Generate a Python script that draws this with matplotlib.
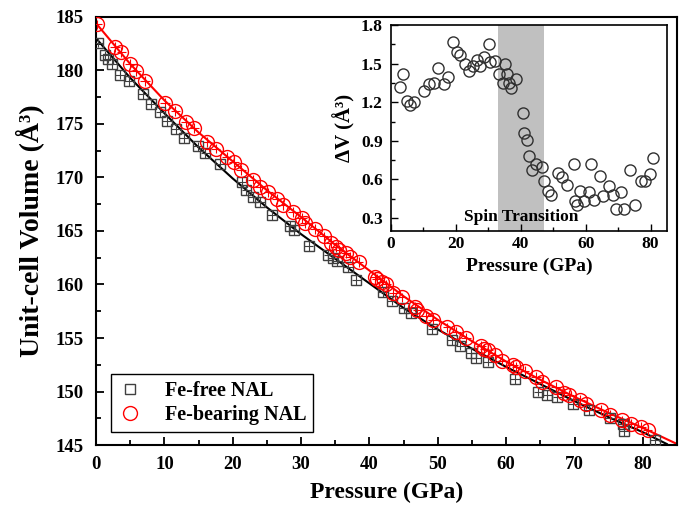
import matplotlib
matplotlib.use('Agg')
import matplotlib.pyplot as plt
from matplotlib.ticker import MultipleLocator

plt.rcParams['font.family'] = ['Liberation Serif', 'DejaVu Serif']
plt.rcParams['font.weight'] = 'bold'
plt.rcParams['axes.labelweight'] = 'bold'

# Fe-free NAL (pressure GPa, unit-cell volume A^3)
free_p = [0.3, 1.3, 1.7, 2.4, 3.5, 4.8, 6.8, 8.0, 9.4, 10.4, 11.7, 12.9, 14.9, 16.0,
          18.2, 21.3, 22.0, 23.0, 24.0, 25.7, 28.4, 28.9, 31.1, 34.0, 34.7, 35.3,
          36.9, 38.1, 42.0, 43.3, 45.0, 46.1, 49.2, 52.1, 53.3, 54.8, 55.6, 57.3,
          61.3, 64.7, 66.0, 67.5, 69.8, 72.1, 75.2, 77.1, 77.2, 81.8]
free_v = [182.6, 181.4, 181.1, 180.6, 179.6, 179.0, 177.8, 176.9, 176.1, 175.3, 174.5,
          173.7, 172.9, 172.3, 171.3, 169.6, 168.8, 168.2, 167.7, 166.5, 165.5, 165.1,
          163.6, 162.8, 162.5, 162.2, 161.6, 160.4, 159.3, 158.5, 157.8, 157.3, 155.8,
          154.8, 154.3, 153.6, 153.1, 152.8, 151.2, 150.0, 149.7, 149.5, 148.8, 148.3,
          147.5, 147.0, 146.3, 145.5]

# Fe-bearing NAL
bear_p = [0.2, 2.8, 3.7, 5.0, 5.9, 7.2, 10.1, 11.6, 13.2, 14.4, 16.3, 17.5, 19.1, 20.2,
          21.2, 22.9, 24.0, 25.2, 26.4, 27.3, 28.8, 30.1, 30.6, 32.0, 33.3, 34.4, 35.1,
          35.6, 36.5, 37.1, 38.4, 40.8, 41.1, 41.8, 42.4, 43.5, 44.7, 46.6, 47.0, 48.3,
          49.3, 51.4, 52.7, 54.1, 56.3, 56.8, 57.3, 58.4, 59.4, 61.0, 61.5, 62.7, 64.4,
          65.3, 67.3, 68.5, 69.2, 70.8, 71.7, 73.8, 75.2, 77.0, 78.2, 79.7, 80.7]
bear_v = [184.3, 182.2, 181.7, 180.6, 179.9, 179.0, 177.0, 176.2, 175.2, 174.6, 173.3,
          172.7, 171.9, 171.4, 170.7, 169.8, 169.1, 168.6, 168.0, 167.4, 166.8, 166.2,
          165.7, 165.2, 164.5, 163.9, 163.5, 163.2, 162.9, 162.6, 162.1, 160.7, 160.5,
          160.2, 160.0, 159.2, 158.8, 157.9, 157.6, 157.1, 156.7, 156.0, 155.6, 155.0,
          154.3, 154.0, 153.9, 153.4, 152.9, 152.5, 152.3, 151.9, 151.4, 150.9, 150.4,
          149.9, 149.7, 149.2, 148.8, 148.3, 147.8, 147.3, 147.0, 146.7, 146.4]

# EOS fit curves
fit_free_p = [0, 5, 10, 15, 20, 25, 30, 35, 40, 45, 50, 55, 60, 65, 70, 75, 80, 83.5]
fit_free_v = [183.0, 179.3, 176.0, 172.8, 169.9, 167.2, 164.7, 162.4, 160.1, 157.8,
              155.8, 154.0, 152.3, 150.7, 149.1, 147.6, 146.2, 145.1]
fit_bear_p = [0, 5, 10, 15, 20, 25, 30, 35, 40, 45, 50, 55, 60, 65, 70, 75, 80, 85]
fit_bear_v = [184.4, 180.6, 177.2, 174.2, 171.5, 168.8, 166.3, 163.7, 161.3, 158.9,
              156.7, 154.7, 152.8, 151.1, 149.5, 148.0, 146.6, 145.1]

# inset: volume difference
dv_p = bear_p[1:]
dv = [1.32, 1.42, 1.21, 1.18, 1.20, 1.29, 1.34, 1.35, 1.47, 1.34, 1.40, 1.67, 1.59, 1.57,
      1.50, 1.44, 1.48, 1.53, 1.48, 1.55, 1.65, 1.51, 1.52, 1.42, 1.35, 1.50, 1.42, 1.35,
      1.31, 1.38, 1.12, 0.96, 0.91, 0.78, 0.67, 0.72, 0.70, 0.59, 0.51, 0.48, 0.65, 0.62,
      0.56, 0.72, 0.43, 0.40, 0.51, 0.43, 0.50, 0.72, 0.44, 0.63, 0.47, 0.55, 0.48, 0.37,
      0.50, 0.37, 0.67, 0.40, 0.59, 0.59, 0.64, 0.77]
spin_range = (33, 47)

p_err = 0.7
v_err = 0.45

fig = plt.figure(figsize=(6.86, 5.11), dpi=100)
ax = fig.add_axes([0.140, 0.129, 0.847, 0.838])

ax.plot(fit_free_p, fit_free_v, color='black', lw=1.5, zorder=2)
ax.plot(fit_bear_p, fit_bear_v, color='red', lw=1.5, zorder=2)
ax.errorbar(free_p, free_v, xerr=p_err, yerr=v_err, fmt='none', ecolor='#404040',
            elinewidth=0.8, zorder=3)
ax.errorbar(bear_p, bear_v, xerr=p_err, yerr=v_err, fmt='none', ecolor='red',
            elinewidth=0.8, zorder=3)
ax.plot(free_p, free_v, 's', ms=7.5, mfc='none', mec='#404040', mew=1.0,
        label='Fe-free NAL', zorder=4)
ax.plot(bear_p, bear_v, 'o', ms=10, mfc='none', mec='red', mew=1.0,
        label='Fe-bearing NAL', zorder=4)

ax.set_xlim(0, 85)
ax.set_ylim(145, 185)
ax.xaxis.set_major_locator(MultipleLocator(10))
ax.xaxis.set_minor_locator(MultipleLocator(5))
ax.yaxis.set_major_locator(MultipleLocator(5))
ax.yaxis.set_minor_locator(MultipleLocator(2.5))
ax.tick_params(which='both', direction='in', width=1.3, labelsize=13.5)
ax.tick_params(which='major', length=6)
ax.tick_params(which='minor', length=3.5)
ax.tick_params(axis='y', which='major', pad=9)
ax.tick_params(axis='x', which='major', pad=8)
for s in ax.spines.values():
    s.set_linewidth(1.5)
ax.set_xlabel('Pressure (GPa)', fontsize=17, labelpad=6)
ax.set_ylabel('Unit-cell Volume (Å³)', fontsize=20, labelpad=8)

leg = ax.legend(loc='lower left', bbox_to_anchor=(0.026, 0.03), borderaxespad=0,
                fontsize=14.5, fancybox=False, edgecolor='black', framealpha=1,
                handlelength=1.2, handletextpad=1.1, borderpad=0.35, labelspacing=0.2)
leg.get_frame().set_linewidth(1.0)

# inset
ins = fig.add_axes([0.570, 0.548, 0.402, 0.403])
ins.axvspan(spin_range[0], spin_range[1], color='#c0c0c0', lw=0, zorder=0)
ins.plot(dv_p, dv, 'o', ms=8, mfc='none', mec='#303030', mew=1.0, zorder=3)
ins.text(sum(spin_range) / 2, 0.31, 'Spin Transition', ha='center', va='center',
         fontsize=12.5, fontweight='bold')
ins.set_xlim(0, 85)
ins.set_ylim(0.2, 1.8)
ins.xaxis.set_major_locator(MultipleLocator(20))
ins.xaxis.set_minor_locator(MultipleLocator(10))
ins.yaxis.set_major_locator(MultipleLocator(0.3))
ins.yaxis.set_minor_locator(MultipleLocator(0.15))
ins.tick_params(which='both', direction='in', width=1.0, labelsize=12.5)
ins.tick_params(which='major', length=5)
ins.tick_params(which='minor', length=3)
ins.tick_params(axis='y', which='major', pad=6)
for s in ins.spines.values():
    s.set_linewidth(1.2)
ins.set_xlabel('Pressure (GPa)', fontsize=14)
ins.set_ylabel('ΔV (Å³)', fontsize=15)

fig.savefig('out.png', dpi=100)
